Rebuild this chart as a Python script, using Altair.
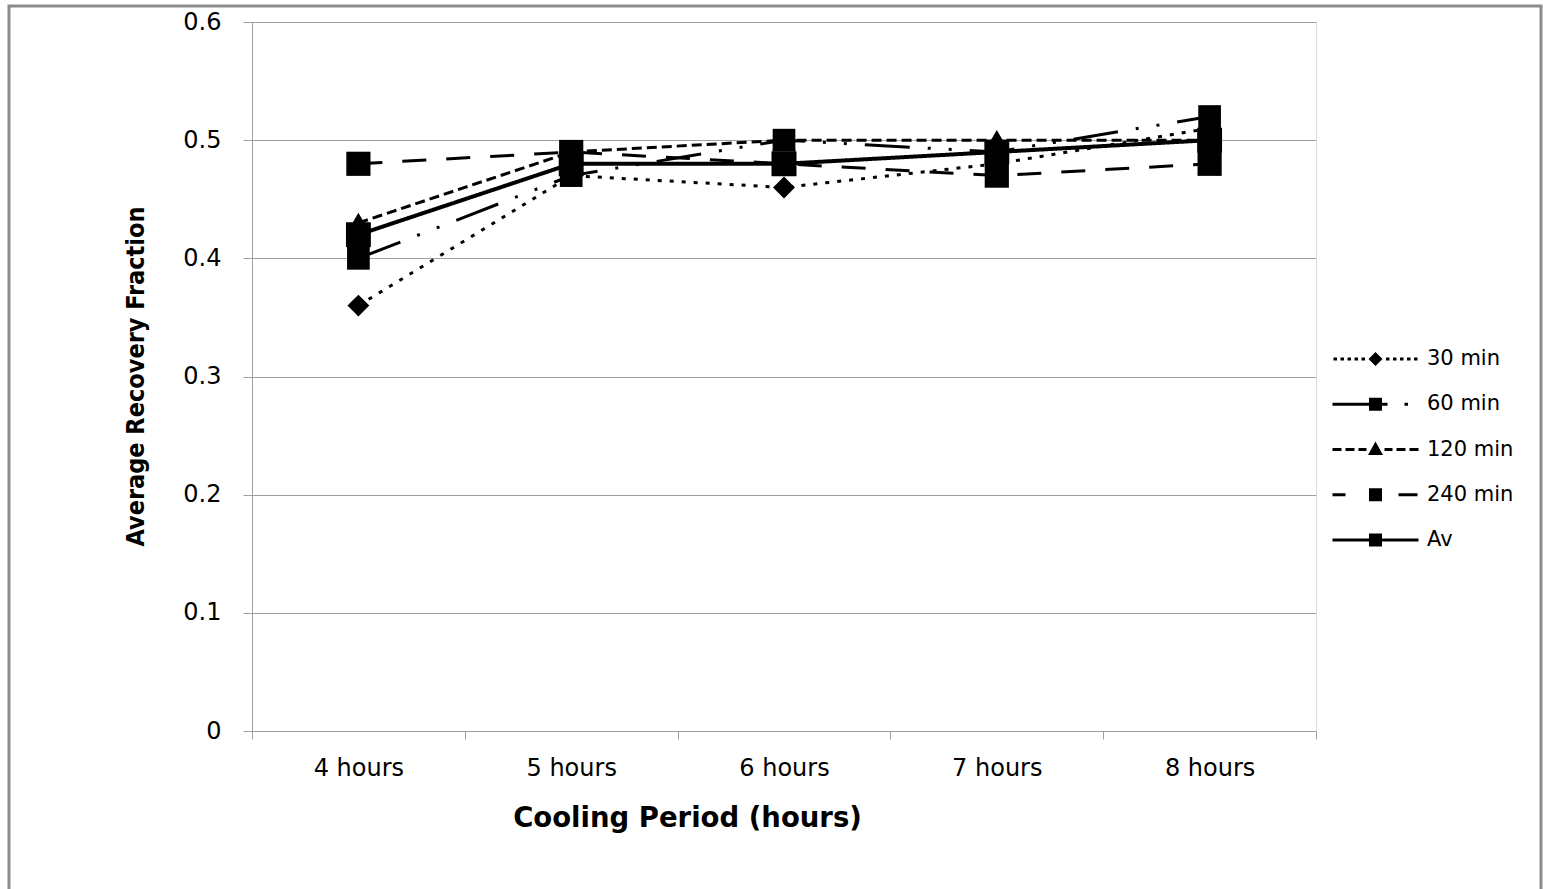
import altair as alt
import pandas as pd

hours = ["4 hours", "5 hours", "6 hours", "7 hours", "8 hours"]
series_names = ["30 min", "60 min", "120 min", "240 min", "Av"]
s30 = [0.36, 0.47, 0.46, 0.48, 0.51]
s60 = [0.40, 0.47, 0.50, 0.49, 0.52]
s120 = [0.43, 0.49, 0.50, 0.50, 0.50]
s240 = [0.48, 0.49, 0.48, 0.47, 0.48]
s_av = [0.42, 0.48, 0.48, 0.49, 0.50]
y_ticks = [0, 0.1, 0.2, 0.3, 0.4, 0.5, 0.6]

rows = []
for name, vals in zip(series_names, [s30, s60, s120, s240, s_av]):
    for h, v in zip(hours, vals):
        rows.append({"hours": h, "series": name, "value": v})
df = pd.DataFrame(rows)

# styles
dashes = [[4, 8], [45, 18, 3, 18, 3, 18], [10, 5], [24, 20], [1, 0]]
shapes = ["diamond", "square", "triangle-up", "square", "square"]
sizes = [480, 620, 380, 620, 620]

# legend glyphs (line + marker) as custom symbol paths, unit = 6.5 px
U = 6.5


def rect(x0, x1, hh=1.5):
    return (f"M{x0/U:.3f},{-hh/U:.3f}L{x1/U:.3f},{-hh/U:.3f}"
            f"L{x1/U:.3f},{hh/U:.3f}L{x0/U:.3f},{hh/U:.3f}Z")


def sq(h=6.5):
    return rect(-h, h, h)


diamond = f"M{-7/U:.3f},0L0,{-7/U:.3f}L{7/U:.3f},0L0,{7/U:.3f}Z"
triangle = f"M0,{-8/U:.3f}L{7.5/U:.3f},{5.5/U:.3f}L{-7.5/U:.3f},{5.5/U:.3f}Z"

g30 = "".join(rect(x, x + 3.5) for x in [-42, -35, -28, -21, -14]) + diamond + \
    "".join(rect(x, x + 3.5) for x in [10.5, 17.5, 24.5, 31.5, 38.5])
g60 = rect(-43, -6) + sq() + rect(6, 12) + rect(29, 32.5)
g120 = rect(-43, -34) + rect(-30, -21) + rect(-17, -9) + triangle + \
    rect(9, 17) + rect(21, 30) + rect(34, 43)
g240 = rect(-43, -30) + sq() + rect(23, 42)
gav = rect(-43, 43) + sq()
glyphs = [g30, g60, g120, g240, gav]

GRAY = "#a0a0a0"
LABEL_FONT = "DejaVu Sans"

x_enc = alt.X(
    "hours:N", sort=hours, bandPosition=0.5,
    scale=alt.Scale(type="band", domain=hours, paddingInner=0, paddingOuter=0),
    axis=alt.Axis(
        title="Cooling Period (hours)", labelAngle=0, tickBand="extent",
        domainColor=GRAY, tickColor=GRAY, tickSize=8, labelPadding=17,
        labelFont=LABEL_FONT, labelFontSize=24, labelColor="black", grid=False,
        titleFont=LABEL_FONT, titleFontSize=27.5, titleFontWeight="bold",
        titleColor="black", titleX=435, titleY=87, titleAlign="center",
        titleBaseline="middle", titleAnchor="start",
    ),
)
y_enc = alt.Y(
    "value:Q",
    scale=alt.Scale(domain=[0, 0.6], nice=False, zero=True),
    axis=alt.Axis(
        title="Average Recovery Fraction", values=y_ticks, format="~g",
        domainColor=GRAY, tickColor=GRAY, tickSize=9, labelPadding=22,
        labelFont=LABEL_FONT, labelFontSize=24, labelColor="black",
        grid=True, gridColor=GRAY, gridWidth=1,
        titleFont="Liberation Sans Narrow, DejaVu Sans Condensed, DejaVu Sans",
        titleFontSize=25, titleFontWeight="bold", titleColor="black",
        titleX=-117, titleY=354, titleAlign="center", titleBaseline="middle",
        titleAngle=270, titleAnchor="start",
    ),
)

dash_scale = alt.Scale(domain=series_names, range=dashes)

lines = alt.Chart(df).mark_line(color="black", strokeWidth=3).encode(
    x=x_enc, y=y_enc,
    strokeDash=alt.StrokeDash("series:N", scale=dash_scale, legend=None),
    detail="series:N",
).transform_filter(alt.datum.series != "Av")

av_line = alt.Chart(df).mark_line(color="black", strokeWidth=4).encode(
    x=x_enc, y=y_enc,
    strokeDash=alt.StrokeDash("series:N", scale=dash_scale, legend=None),
).transform_filter(alt.datum.series == "Av")

points = alt.Chart(df).mark_point(filled=True, color="black", opacity=1).encode(
    x=x_enc, y=y_enc,
    shape=alt.Shape("series:N", scale=alt.Scale(domain=series_names, range=shapes), legend=None),
    size=alt.Size("series:N", scale=alt.Scale(domain=series_names, range=sizes), legend=None),
)

legend_layer = alt.Chart(df).mark_point(
    filled=True, color="black", opacity=1, clip=True, size=169
).encode(
    x=alt.value(-600), y=alt.value(-600),
    shape=alt.Shape(
        "series:N",
        scale=alt.Scale(domain=series_names, range=glyphs),
        legend=alt.Legend(
            title=None, orient="none", legendX=1113, legendY=326.5,
            labelFont=LABEL_FONT, labelFontSize=21, labelColor="black",
            labelOffset=41, rowPadding=23.25, padding=0, symbolStrokeWidth=0,
            symbolFillColor="black", symbolSize=169,
        ),
    ),
)

frame = alt.Chart(pd.DataFrame({"a": [0]})).mark_rect(
    fill=None, stroke="#8c8c8c", strokeWidth=3
).encode(
    x=alt.value(-243), x2=alt.value(1541 - 252), y=alt.value(-16), y2=alt.value(900)
)

chart = alt.layer(frame, lines, av_line, points, legend_layer).resolve_scale(
    shape="independent", size="independent"
).properties(
    width=1064, height=709,
    autosize=alt.AutoSizeParams(type="none"),
    padding={"left": 252, "top": 22, "right": 227, "bottom": 158},
).configure_view(stroke=None).configure(background="white")

chart.save("out.html", embed_options={"renderer": "svg", "actions": False})
